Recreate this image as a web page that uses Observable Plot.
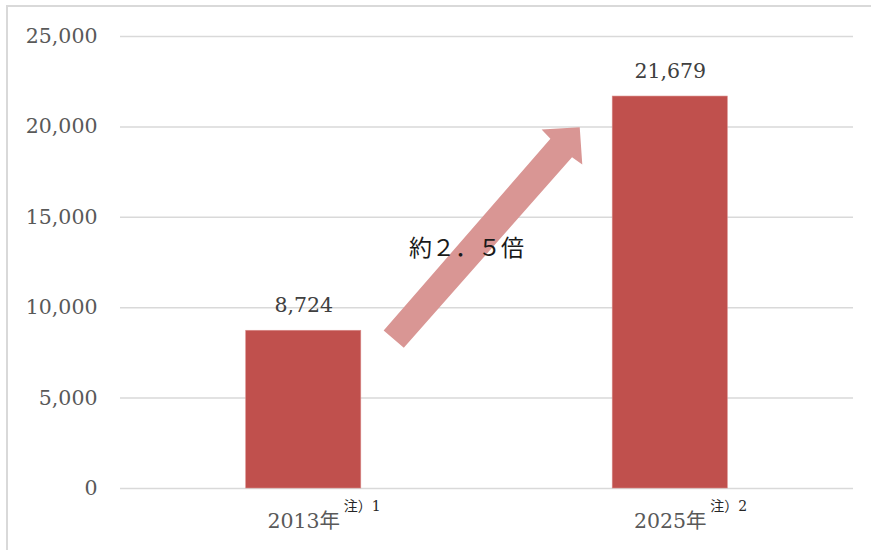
<!DOCTYPE html>
<html>
<head>
<meta charset="utf-8">
<script src="https://cdn.jsdelivr.net/npm/d3@7"></script>
<script src="https://cdn.jsdelivr.net/npm/@observablehq/plot@0.6"></script>
<style>
  html, body { margin: 0; padding: 0; background: #fff; }
  #wrap { position: relative; width: 871px; height: 550px; overflow: hidden; }
  #frame { position: absolute; left: 6px; top: 5px; width: 900px; height: 600px;
           border-top: 2px solid #d9d9d9; border-left: 2px solid #d9d9d9; pointer-events: none; }
  svg { position: absolute; left: 0; top: 0; }
</style>
</head>
<body>
<div id="wrap"><div id="frame"></div></div>
<script>
// Data
const categories = ["2013年", "2025年"];
const notes = ["注）1", "注）2"];
const values = [8724, 21679];
const yTicks = [0, 5000, 10000, 15000, 20000, 25000];
const annotationText = "約２．５倍";
// arrow outline in data units (x: category position 0..2, y: value)
const arrowX = [0.718, 1.173, 1.149, 1.253, 1.260, 1.232, 0.773];
const arrowY = [8739, 19342, 19857, 19984, 17920, 18324, 7782];

const barHalf = 0.157;
const rows = categories.map((c, i) => ({cat: c, note: notes[i], value: values[i], pos: i + 0.5}));
const arrow = arrowX.map((x, i) => ({x, y: arrowY[i]}));
const serif = "'DejaVu Serif', 'Noto Sans CJK JP', serif";

const chart = Plot.plot({
  width: 871,
  height: 550,
  marginLeft: 120,
  marginRight: 18,
  marginTop: 36,
  marginBottom: 62,
  style: {fontFamily: serif, background: "transparent"},
  x: {domain: [0, 2], axis: null},
  y: {domain: [0, 25000], axis: null},
  marks: [
    Plot.ruleY(yTicks, {stroke: "#d9d9d9", strokeWidth: 1.5}),
    Plot.text(yTicks, {x: 0, y: d => d, text: d => d3.format(",")(d), textAnchor: "end", dx: -23,
      fontSize: 20.5, fill: "#595959", fontFamily: serif}),
    Plot.rectY(rows, {x1: d => d.pos - barHalf, x2: d => d.pos + barHalf, y1: 0, y2: "value",
      fill: "#c0504d", stroke: "#d88a88", strokeWidth: 0.6}),
    Plot.text(rows, {x: "pos", y: "value", text: d => d3.format(",")(d.value), dy: -25,
      fontSize: 20.5, fill: "#404040", fontFamily: serif}),
    Plot.text(rows, {x: "pos", y: 0, text: "cat", dy: 33, fontSize: 20.5, fill: "#595959", fontFamily: serif}),
    Plot.text(rows, {x: "pos", y: 0, text: "note", dx: 40, dy: 18, textAnchor: "start",
      fontSize: 14, fill: "#262626", fontFamily: serif}),
    Plot.line(arrow, {x: "x", y: "y", fill: "#d99694", stroke: "none", curve: "linear-closed"}),
    Plot.text([annotationText], {x: 0.944, y: 13275, text: d => d, fontSize: 23, fill: "#1a1a1a",
      fontFamily: serif})
  ]
});
document.getElementById("wrap").appendChild(chart);
</script>
</body>
</html>
